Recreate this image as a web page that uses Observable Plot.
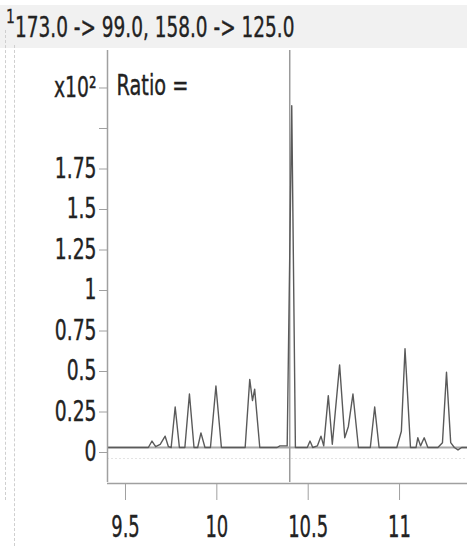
<!DOCTYPE html>
<html>
<head>
<meta charset="utf-8">
<script src="https://cdn.jsdelivr.net/npm/d3@7"></script>
<script src="https://cdn.jsdelivr.net/npm/@observablehq/plot@0.6"></script>
<style>
  html, body { margin: 0; padding: 0; background: #ffffff; width: 467px; height: 546px; overflow: hidden; }
  #page { position: relative; width: 467px; height: 546px; font-family: "DejaVu Sans", sans-serif; }
  #band { position: absolute; left: 0; top: 5px; width: 467px; height: 43px; background: #f1f1f1; }
  #title { position: absolute; left: 15px; top: 11px; font-size: 28px; color: #222; white-space: nowrap;
           transform: scaleX(0.66); transform-origin: left top; line-height: 34px; -webkit-text-stroke: 0.4px #222; }
  #sup { position: absolute; left: 6px; top: 4px; font-size: 20px; color: #222; transform: scaleX(0.7); transform-origin: left top; -webkit-text-stroke: 0.3px #222; }
  .dots { position: absolute; border-left: 1px dashed #cfcfcf; width: 0; }
  #chart { position: absolute; left: 0; top: 50px; }
</style>
</head>
<body>
<div id="page">
  <div id="band"></div>
  <div id="sup"></div>
  <div id="title"></div>
  <div class="dots" style="left:5px; top:30px; height:470px;"></div>
  <div class="dots" style="left:14px; top:45px; height:501px;"></div>
  <div id="chart"></div>
</div>
<script>
// ---- data ----
const titleText = "173.0 -> 99.0, 158.0 -> 125.0";
const titlePrefix = "1";
const annotationText = "Ratio =";

// retention time (min) and response (x10^2) of the chromatogram trace vertices
const traceTime = [
  9.405, 9.625, 9.645, 9.665, 9.69, 9.717, 9.735, 9.75, 9.772, 9.795,
  9.825, 9.85, 9.875, 9.895, 9.913, 9.935, 9.965, 9.995, 10.025, 10.155,
  10.18, 10.195, 10.207, 10.235, 10.33, 10.345, 10.385, 10.41, 10.43, 10.495,
  10.51, 10.525, 10.55, 10.57, 10.585, 10.61, 10.632, 10.672, 10.70, 10.72,
  10.745, 10.775, 10.84, 10.864, 10.888, 10.985, 11.01, 11.03, 11.06, 11.09,
  11.10, 11.115, 11.135, 11.155, 11.21, 11.235, 11.257, 11.28, 11.30, 11.32,
  11.34, 11.372
];
const traceResponse = [
  0, 0, 0.04, 0.005, 0.02, 0.07, 0.005, 0, 0.25, 0,
  0, 0.33, 0, 0, 0.09, 0, 0, 0.38, 0, 0,
  0.42, 0.29, 0.36, 0, 0, 0.01, 0.01, 2.11, 0, 0,
  0.04, 0, 0.01, 0.07, 0.01, 0.32, 0.02, 0.51, 0.06, 0.13,
  0.33, 0, 0, 0.25, 0, 0, 0.1, 0.61, 0, 0,
  0.06, 0.01, 0.06, 0, 0, 0.03, 0.465, 0.03, 0, -0.015,
  0, 0
];

const markerTime = [10.399];          // expected retention time marker
const baselineValue = [0];
const noiseLineValue = [-0.068];

const xTicks = [9.5, 10, 10.5, 11];
const xTickLabels = ["9.5", "10", "10.5", "11"];
const yTicks = [0, 0.25, 0.5, 0.75, 1, 1.25, 1.5, 1.75, 2, 2.25];
const yTickLabels = ["0", "0.25", "0.5", "0.75", "1", "1.25", "1.5", "1.75", "", "x10\u00B2"];

const xDomain = [9.4015, 11.372];
const yDomain = [-0.216, 2.4506];

// ---- build ----
document.getElementById("title").textContent = titleText;
document.getElementById("sup").textContent = titlePrefix;

const trace = traceTime.map((t, i) => ({t, v: traceResponse[i]}));

const svg = Plot.plot({
  width: 467,
  height: 496,
  marginLeft: 107,
  marginRight: 0,
  marginTop: 0,
  marginBottom: 64,
  style: {fontFamily: "DejaVu Sans, sans-serif", color: "#222", background: "transparent", overflow: "visible"},
  x: {domain: xDomain},
  y: {domain: yDomain},
  marks: [
    Plot.ruleY(noiseLineValue, {stroke: "#e4e4e4", strokeWidth: 1, strokeDasharray: "2,2"}),
    Plot.ruleY(baselineValue, {stroke: "#a8a8a8", strokeWidth: 2}),
    Plot.ruleX(markerTime, {stroke: "#9a9a9a", strokeWidth: 1.5}),
    Plot.line(trace, {x: "t", y: "v", stroke: "#5a5a5a", strokeWidth: 1.4}),
    Plot.ruleX([xDomain[0]], {stroke: "#a0a0a0", strokeWidth: 1.5}),
    Plot.ruleY([yDomain[0]], {stroke: "#a0a0a0", strokeWidth: 1.5, dy: 1}),
    Plot.axisY({
      ticks: yTicks,
      tickFormat: (d) => yTickLabels[yTicks.indexOf(d)],
      tickSize: 8, tickPadding: 3, fontSize: 28, dy: 5,
      stroke: "#a0a0a0", label: null
    }),
    Plot.axisX({
      ticks: xTicks,
      tickFormat: (d) => xTickLabels[xTicks.indexOf(d)],
      tickSize: 16, tickPadding: 15, fontSize: 30, dy: 2,
      stroke: "#a0a0a0", label: null
    }),
    Plot.text([annotationText], {
      text: (d) => d, frameAnchor: "top-left", dx: 9, dy: 36,
      textAnchor: "start", lineAnchor: "middle", fontSize: 28, fill: "#222"
    })
  ]
});
document.getElementById("chart").append(svg);

// condense the glyphs horizontally as in the reference rendering
function squeeze(sel, k) {
  svg.querySelectorAll(sel).forEach((t) => {
    if (t.dataset.sq) return;
    const L = t.getComputedTextLength();
    if (L > 0) {
      t.setAttribute("textLength", (L * k).toFixed(2));
      t.setAttribute("lengthAdjust", "spacingAndGlyphs");
    }
    t.setAttribute("stroke", "#222");
    t.setAttribute("stroke-width", "0.4");
    t.dataset.sq = "1";
  });
}
squeeze('g[aria-label="x-axis tick label"] text', 0.6);
squeeze('g[aria-label="y-axis tick label"] text', 0.67);
squeeze('text', 0.69);
</script>
</body>
</html>
